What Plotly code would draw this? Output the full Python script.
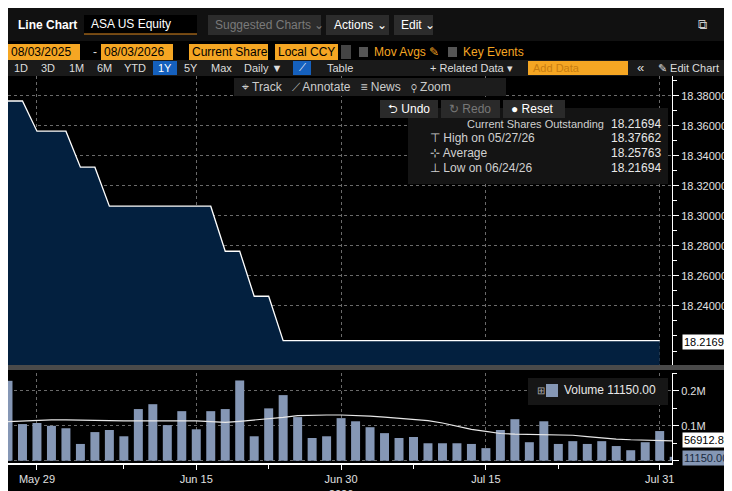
import plotly.graph_objects as go

W, H = 732, 491

# trading days shown on the axis
dates = ["05/27", "05/28", "05/29", "06/01", "06/02", "06/03", "06/04", "06/05",
         "06/08", "06/09", "06/10", "06/11", "06/12", "06/15", "06/16", "06/17",
         "06/18", "06/22", "06/23", "06/24", "06/25", "06/26", "06/29", "06/30",
         "07/01", "07/02", "07/06", "07/07", "07/08", "07/09", "07/10", "07/13",
         "07/14", "07/15", "07/16", "07/17", "07/20", "07/21", "07/22", "07/23",
         "07/24", "07/27", "07/28", "07/29", "07/30", "07/31", "08/03"]
shares = [18.37662, 18.37662, 18.3565, 18.3565, 18.3565, 18.3325, 18.3325,
          18.3065, 18.3065, 18.3065, 18.3065, 18.3065, 18.3065, 18.3065, 18.3065,
          18.2765, 18.2765, 18.2465, 18.2465] + [18.21694] * 27 + [None]
volume = [229, 105, 108, 100, 93, 48, 82, 88, 70, 148, 162, 102, 142, 90, 142, 148,
          230, 70, 150, 188, 125, 65, 70, 122, 113, 96, 79, 65, 68, 50, 50, 50, 48,
          36, 88, 119, 53, 113, 48, 56, 48, 56, 42, 30, 53, 85, 11.15]
vol_ma = [112, 114, 116, 117, 117, 117, 116, 115, 114, 114, 114, 115, 115, 114, 112,
          110, 113, 116, 119, 124, 129, 131, 131, 131, 130, 128, 125, 122, 117, 115,
          108, 98, 90, 84, 78, 76, 75, 75, 75, 73, 69, 65, 62, 60, 59, 58, 56.9128]
tick_idx = [2, 13, 23, 33, 45]
tick_txt = ["May 29", "Jun 15", "Jun 30<br>2026", "Jul 15", "Jul 31"]
price_ticks = [18.24, 18.26, 18.28, 18.30, 18.32, 18.34, 18.36, 18.38]

idx = list(range(len(dates)))
vol_units = [v * 1000 for v in volume]
ma_units = [v * 1000 for v in vol_ma]

FONT = "Liberation Sans Narrow, Liberation Sans, Arial, sans-serif"
XDOM = [0, 664 / W]


def px(x):
    return x / W


def py(y):
    return 1 - y / H


fig = go.Figure()
fig.add_trace(go.Scatter(x=idx, y=shares, mode="lines", fill="tozeroy",
                         line=dict(color="white", width=1.3),
                         fillcolor="#03203f", xaxis="x", yaxis="y", hoverinfo="skip"))
fig.add_trace(go.Bar(x=idx, y=vol_units, marker=dict(color="#8597b5", line_width=0),
                     width=0.62, xaxis="x2", yaxis="y2"))
fig.add_trace(go.Scatter(x=idx, y=ma_units, mode="lines", line=dict(color="#e8e8e8", width=1.2),
                         xaxis="x2", yaxis="y2"))

grid = dict(showgrid=True, gridcolor="#6a6a6a", griddash="dot", gridwidth=1, automargin=False)
tfont = dict(size=11, color="#e0e0e0")
fig.update_layout(
    width=W, height=H, margin=dict(l=0, r=0, t=0, b=0, autoexpand=False),
    paper_bgcolor="black", plot_bgcolor="black", showlegend=False,
    font=dict(family=FONT, color="#e0e0e0", size=12),
    xaxis=dict(domain=XDOM, range=[0, 45.85], tickvals=tick_idx, showticklabels=False,
               zeroline=False, anchor="y", **grid),
    yaxis=dict(domain=[py(358), py(68)], range=[18.2, 18.3933], side="right",
               tickvals=price_ticks, tickformat=".5f", ticks="outside", ticklen=6,
               tickcolor="white", showline=True, linecolor="white", anchor="x",
               tickfont=tfont,
               minor=dict(ticks="outside", ticklen=4, tickcolor="white", dtick=0.01),
               zeroline=False, **grid),
    xaxis2=dict(domain=XDOM, range=[0, 45.85], tickvals=tick_idx, ticktext=tick_txt,
                ticks="outside", tickcolor="white", ticklen=5, showline=True,
                linecolor="white", linewidth=2, anchor="y2", zeroline=False,
                tickfont=tfont,
                minor=dict(ticks="outside", ticklen=4, tickcolor="white",
                           tickvals=[8, 18, 28, 38]), **grid),
    yaxis2=dict(domain=[py(455), py(365)], range=[-6600, 251400], side="right",
                tickvals=[0, 100000, 200000], ticktext=["", "0.1M", "0.2M"],
                ticks="outside", tickcolor="white", ticklen=6, showline=True,
                linecolor="white", anchor="x2", zeroline=False, tickfont=tfont,
                minor=dict(ticks="outside", ticklen=4, tickcolor="white", dtick=50000),
                **grid),
    bargap=0.3,
)

shapes = []
ann = []


def box(x0, y0, x1, y1, fill, line=None):
    shapes.append(dict(type="rect", xref="paper", yref="paper", x0=px(x0), x1=px(x1),
                       y0=py(y1), y1=py(y0), fillcolor=fill,
                       line=dict(width=1 if line else 0, color=line or fill), layer="above"))


def text(x, y, s, color="#e0e0e0", size=12, anchor="left", bold=False, bg=None):
    ann.append(dict(x=px(x), y=py(y), xref="paper", yref="paper", text=f"<b>{s}</b>" if bold else s,
                    showarrow=False, xanchor=anchor, yanchor="middle",
                    font=dict(color=color, size=size, family=FONT), bgcolor=bg, borderpad=1))


# top rows
box(0, 0, 732, 33, "#111111")
text(8, 17, "Line Chart", "white", 12, bold=True)
box(76, 7, 189, 26, "#000000")
shapes.append(dict(type="line", xref="paper", yref="paper", x0=px(76), x1=px(189),
                   y0=py(26), y1=py(26), line=dict(color="#e08a1e", width=1)))
text(81, 16, "ASA US Equity", "white", 12)
box(200, 7, 313, 27, "#2c2c2c")
text(205, 17, "Suggested Charts ⌄", "#7a7a7a", 12)
box(318, 7, 381, 27, "#2c2c2c")
text(324, 17, "Actions ⌄", "white", 12)
box(386, 7, 425, 27, "#2c2c2c")
text(391, 17, "Edit ⌄", "white", 12)
text(694, 17, "⧉", "#cccccc", 13, "center")
text(720, 17, "?", "white", 15, "center", bold=True)

orange = "#f5a623"
box(0, 36, 72, 52, orange)
text(1, 44, "08/03/2025", "#000", 12)
text(87, 44, "-", "#ddd", 12, "center")
box(93, 36, 165, 52, orange)
text(94, 44, "08/03/2026", "#000", 12)
box(181, 36, 260, 52, orange)
text(182, 44, "Current Share", "#000", 12)
box(267, 36, 330, 52, orange)
text(268, 44, "Local CCY", "#000", 12)
box(333, 37, 343, 51, "#444444")
box(351, 39, 360, 49, "#555555")
text(364, 44, "Mov Avgs ✎", orange, 12)
box(440, 39, 449, 49, "#555555")
text(453, 44, "Key Events", orange, 12)

box(0, 52, 732, 68, "#1a1a1a")
for x, s in [(13, "1D"), (40, "3D"), (68, "1M"), (96, "6M"), (127, "YTD"), (183, "5Y"),
             (213, "Max"), (255, "Daily ▼"), (332, "Table")]:
    text(x, 60, s, "#dddddd", 11, "center")
box(145, 53, 169, 67, "#1560bd")
text(157, 60, "1Y", "white", 11, "center")
box(285, 53, 303, 67, "#1560bd")
text(294, 60, "⟋", "white", 10, "center")
text(463, 60, "+ Related Data ▾", "#dddddd", 11, "center")
box(520, 53, 620, 67, orange)
text(523, 60, "Add Data", "#c87d10", 11)
text(632, 60, "«", "#dddddd", 13, "center")
text(680, 60, "✎ Edit Chart", "#dddddd", 11, "center")
text(724, 60, "⚙", "#dddddd", 12, "center")

# overlays
box(226, 70, 498, 88, "#1c1c1c")
text(232, 79, "⌖ Track   ⟋ Annotate   ≡ News   ⚲ Zoom", "#cccccc", 12)
box(400, 100, 660, 176, "#141414")
text(598, 116, "Current Shares Outstanding", "#d0d0d0", 11, "right")
text(655, 116, "18.21694", "#e8e8e8", 12, "right")
for y, lab, val in [(130, "⊤ High on 05/27/26", "18.37662"), (145, "⊹ Average", "18.25763"),
                    (160, "⊥ Low on 06/24/26", "18.21694")]:
    text(420, y, lab, "#d0d0d0", 12)
    text(655, y, val, "#e8e8e8", 12, "right")
box(372, 92, 430, 110, "#2a2a2a")
text(378, 101, "⮌ Undo", "white", 12)
box(433, 92, 492, 110, "#2a2a2a")
text(439, 101, "↻ Redo", "#777777", 12)
box(495, 92, 557, 110, "#2a2a2a")
text(501, 101, "● Reset", "white", 12)

box(0, 357, 732, 362, "#4a4a4a")
box(520, 370, 660, 397, "#161616")
text(527, 382, "⊞", "#aaaaaa", 10)
box(538, 376, 550, 389, "#8597b5")
text(554, 382, "Volume 11150.00", "#e8e8e8", 12)

# last value tags
text(674, 334, "18.21694", "#000", 11, bg="white")
text(674, 432, "56912.80", "#000", 11, bg="white")
text(674, 450, "11150.00", "#1a2a40", 11, bg="#8597b5")

fig.update_layout(shapes=shapes, annotations=ann)
fig.write_html("out.html")
